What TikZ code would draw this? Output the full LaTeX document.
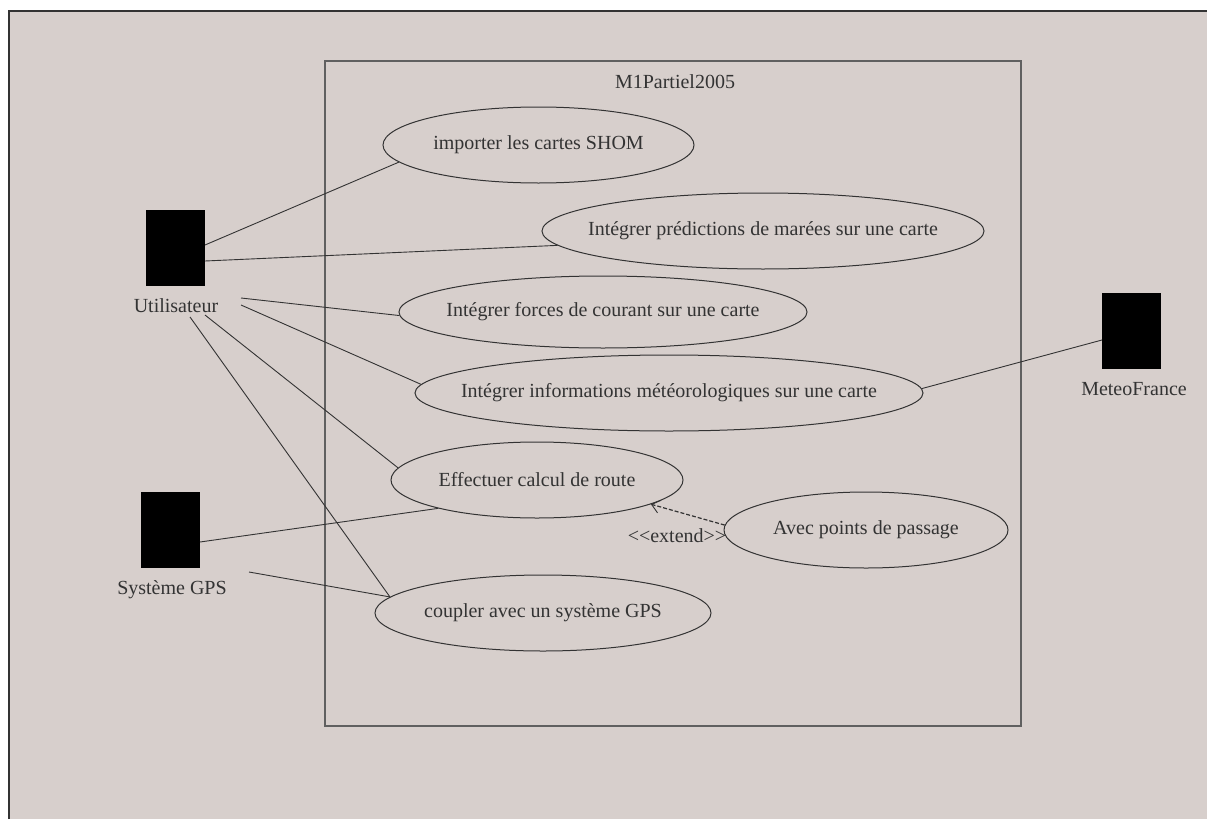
\documentclass[tikz,border=0pt]{standalone}
\usepackage{fontspec}
\setmainfont{Liberation Serif}
\usetikzlibrary{shapes.geometric,arrows.meta}
\definecolor{bg}{HTML}{D7CFCC}
\definecolor{ink}{HTML}{333333}
\definecolor{frame}{HTML}{333333}
\definecolor{sysline}{HTML}{606060}
\begin{document}
\begin{tikzpicture}[x=1pt,y=-1pt,
  font=\fontsize{20}{24}\selectfont,
  uc/.style={ellipse, draw=ink, line width=1pt, inner sep=0pt, text=ink},
  actor/.style={fill=black, minimum width=59pt, minimum height=76pt, inner sep=0pt},
  lbl/.style={text=ink, inner sep=0pt, anchor=base},
  link/.style={draw=ink, line width=0.9pt},
  extlink/.style={draw=ink, line width=1.2pt, dash pattern=on 4pt off 2pt,
    -{Straight Barb[length=8pt,width=13pt,line width=0.9pt]}}]
\useasboundingbox (0,0) rectangle (1207,819);
\fill[white] (0,0) rectangle (1207,819);
\fill[bg] (9,11) rectangle (1207,819);
\draw[frame, line width=2pt] (9,819) -- (9,11) -- (1207,11);

% system boundary
\node (sys) [draw=sysline, line width=1.2pt, minimum width=696pt, minimum height=665pt, inner sep=0pt] at (673,393.5) {};
\node (title) [lbl] at (675,88) {M1Partiel2005};

% use cases
\node (e1) [uc, minimum width=311pt, minimum height=76pt] at (538.5,145) {\makebox[0pt]{importer les cartes SHOM}};
\node (e2) [uc, minimum width=442pt, minimum height=76pt] at (763,231) {\makebox[0pt]{Intégrer prédictions de marées sur une carte}};
\node (e3) [uc, minimum width=408pt, minimum height=72pt] at (603,312) {\makebox[0pt]{Intégrer forces de courant sur une carte}};
\node (e4) [uc, minimum width=508pt, minimum height=76pt] at (669,393) {\makebox[0pt]{Intégrer informations météorologiques sur une carte}};
\node (e5) [uc, minimum width=292pt, minimum height=76pt] at (537,480) {\makebox[0pt]{Effectuer calcul de route}};
\node (e6) [uc, minimum width=284pt, minimum height=76pt] at (866,530) {\makebox[0pt]{Avec points de passage}};
\node (e7) [uc, minimum width=336pt, minimum height=76pt] at (543,613) {\makebox[0pt]{coupler avec un système GPS}};

% actors
\node (user) [actor] at (175.5,248) {};
\node (userlbl) [lbl] at (176,312) {Utilisateur};
\node (gps) [actor] at (170.5,530) {};
\node (gpslbl) [lbl] at (172,594) {Système GPS};
\node (meteo) [actor] at (1131.5,331) {};
\node (meteolbl) [lbl] at (1134,395) {MeteoFrance};

% connector free ends
\coordinate (u1) at (205,245);
\coordinate (u2) at (205,261);
\coordinate (u3) at (241,298);
\coordinate (u4) at (241,305);
\coordinate (u5) at (205,315);
\coordinate (u6) at (190,317);
\coordinate (g1) at (200,542);
\coordinate (g2) at (249,572);
\coordinate (m1) at (1102,340);

% associations
\draw[link] (u1) -- (e1.187.7);
\draw[link] (u2) -- (e2.184.4);
\draw[link] (u3) -- (e3.181.4);
\draw[link] (u4) -- (e4.178.6);
\draw[link] (u5) -- (e5.175.5);
\draw[link] (u6) -- (e7.174.1);
\draw[link] (g1) -- (e5.196.2);
\draw[link] (g2) -- (e7.174.1);
\draw[link] (m1) -- (e4.1.1);

% extend
\draw[extlink] (e6.178.4) -- (e5.348.2);
\node (extlbl) [lbl] at (677,542) {{<}{<}extend{>}{>}};
\end{tikzpicture}
\end{document}
